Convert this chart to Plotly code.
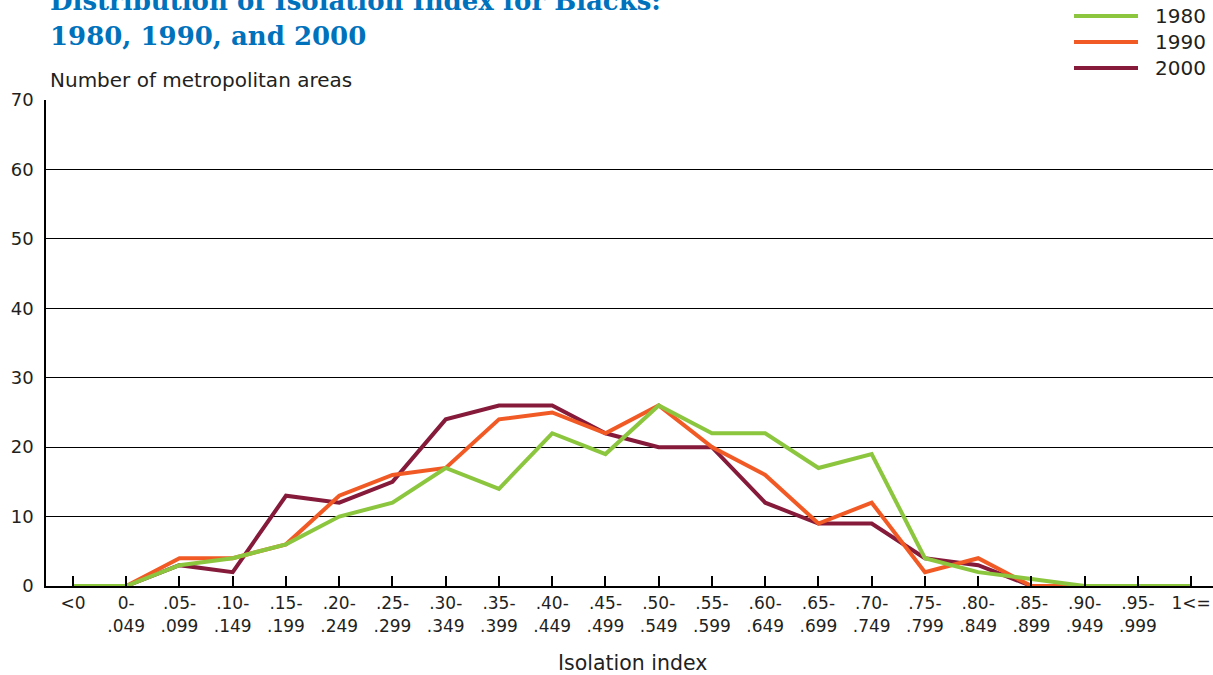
import plotly.graph_objects as go

categories = ["&lt;0", "0-<br>.049", ".05-<br>.099", ".10-<br>.149", ".15-<br>.199", ".20-<br>.249",
              ".25-<br>.299", ".30-<br>.349", ".35-<br>.399", ".40-<br>.449", ".45-<br>.499",
              ".50-<br>.549", ".55-<br>.599", ".60-<br>.649", ".65-<br>.699", ".70-<br>.749",
              ".75-<br>.799", ".80-<br>.849", ".85-<br>.899", ".90-<br>.949", ".95-<br>.999", "1&lt;="]
v1980 = [0, 0, 3, 4, 6, 10, 12, 17, 14, 22, 19, 26, 22, 22, 17, 19, 4, 2, 1, 0, 0, 0]
v1990 = [0, 0, 4, 4, 6, 13, 16, 17, 24, 25, 22, 26, 20, 16, 9, 12, 2, 4, 0, 0, 0, 0]
v2000 = [0, 0, 3, 2, 13, 12, 15, 24, 26, 26, 22, 20, 20, 12, 9, 9, 4, 3, 0, 0, 0, 0]
series_names = ["1980", "1990", "2000"]
colors = {"1980": "#8cc63f", "1990": "#f15a24", "2000": "#851a3b"}
y_ticks = [0, 10, 20, 30, 40, 50, 60, 70]

xs = list(range(len(categories)))
data = {"1980": v1980, "1990": v1990, "2000": v2000}

FONT = "DejaVu Sans"
TXT = "#231f20"

fig = go.Figure()
for name in ["2000", "1990", "1980"]:
    fig.add_trace(go.Scatter(x=xs, y=data[name], mode="lines", name=name,
                             line=dict(color=colors[name], width=4), showlegend=False))

W, H = 1213, 675
L, R, T, B = 46, 0, 100, 89
pw = W - L - R
ph = H - T - B

def px(x):
    return (x - L) / pw

def py(y):
    return (H - B - y) / ph

fig.update_layout(
    width=W, height=H,
    margin=dict(l=L, r=R, t=T, b=B),
    paper_bgcolor="white", plot_bgcolor="white",
    font=dict(family=FONT, color=TXT, size=17),
    xaxis=dict(range=[-0.507, 21.41], tickvals=xs, ticktext=categories,
               ticks="inside", ticklen=10, tickwidth=1.5, tickcolor="black",
               showline=True, linecolor="black", linewidth=2, showgrid=False, zeroline=False,
               ticklabelstandoff=1,
               tickfont=dict(size=17, color=TXT, family=FONT)),
    yaxis=dict(range=[0, 70], tickvals=y_ticks, showgrid=True, gridcolor="black", gridwidth=1,
               showline=True, linecolor="black", linewidth=1.5, zeroline=False,
               ticks="", ticklabelstandoff=7,
               tickfont=dict(size=18, color=TXT, family=FONT)),
)

ann = []
ann.append(dict(text="<b>Distribution of Isolation Index for Blacks:</b>", x=px(48), y=py(1),
                xref="paper", yref="paper", xanchor="left", yanchor="middle", showarrow=False,
                font=dict(family="DejaVu Serif", size=26, color="#0072bc")))
ann.append(dict(text="<b>1980, 1990, and 2000</b>", x=px(48), y=py(36),
                xref="paper", yref="paper", xanchor="left", yanchor="middle", showarrow=False,
                font=dict(family="DejaVu Serif", size=26, color="#0072bc")))
ann.append(dict(text="Number of metropolitan areas", x=px(48), y=py(80),
                xref="paper", yref="paper", xanchor="left", yanchor="middle", showarrow=False,
                font=dict(family=FONT, size=20, color=TXT)))
ann.append(dict(text="Isolation index", x=10.5, y=py(663),
                xref="x", yref="paper", xanchor="center", yanchor="middle", showarrow=False,
                font=dict(family=FONT, size=20.5, color=TXT)))

shapes = []
leg_y = {"1980": 16, "1990": 42, "2000": 68}
for name in series_names:
    shapes.append(dict(type="line", xref="paper", yref="paper",
                       x0=px(1074), x1=px(1138), y0=py(leg_y[name]), y1=py(leg_y[name]),
                       line=dict(color=colors[name], width=4)))
    ann.append(dict(text=name, x=px(1153), y=py(leg_y[name]), xref="paper", yref="paper",
                    xanchor="left", yanchor="middle", showarrow=False,
                    font=dict(family=FONT, size=20, color=TXT)))

fig.update_layout(annotations=ann, shapes=shapes)
fig.write_html("out.html", config={"displayModeBar": False},
               post_script="document.body.style.margin='0';document.body.style.overflow='hidden';")
